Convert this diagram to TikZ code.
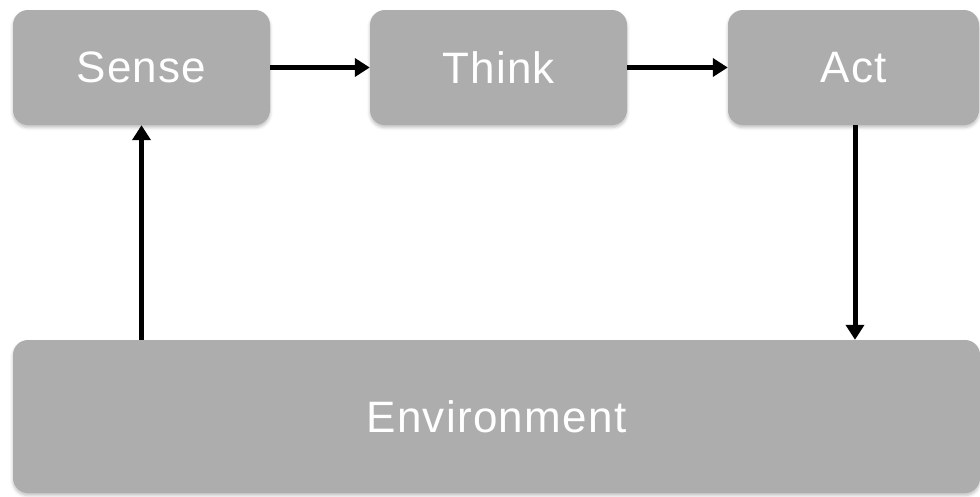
\documentclass[tikz,border=0pt]{standalone}
\usepackage{fontspec}
\setmainfont{Liberation Sans}[LetterSpace=3]
\usetikzlibrary{arrows.meta,shadows.blur}
\begin{document}
\begin{tikzpicture}[x=1pt,y=1pt,
  box/.style={rectangle, rounded corners=15pt, fill=boxgray, draw=none,
    text=white, font=\fontsize{44}{50}\selectfont, inner sep=0pt,
    blur shadow={shadow xshift=0pt, shadow yshift=-2.5pt, shadow blur radius=3pt, shadow opacity=25}},
  conn/.style={line width=5pt, -{Triangle[length=15pt,width=18pt]}}]
\definecolor{boxgray}{HTML}{ADADAD}
\useasboundingbox (0,0) rectangle (980,-496);
\node[box, minimum width=257pt, minimum height=115pt] (sense) at (141.5,-67.5) {Sense};
\node[box, minimum width=257pt, minimum height=115pt] (think) at (498.5,-67.5) {Think};
\node[box, minimum width=251pt, minimum height=115pt] (act) at (853.5,-67.5) {Act};
\node[box, minimum width=967pt, minimum height=153pt] (env) at (496.5,-416.5) {Environment};
\coordinate (actout) at (855,-125);
\draw[conn] (sense.east) -- (think.west);
\draw[conn] (think.east) -- (act.west);
\draw[conn] (actout) -- (actout |- env.north);
\draw[conn] (sense.south |- env.north) -- (sense.south);
\end{tikzpicture}
\end{document}
